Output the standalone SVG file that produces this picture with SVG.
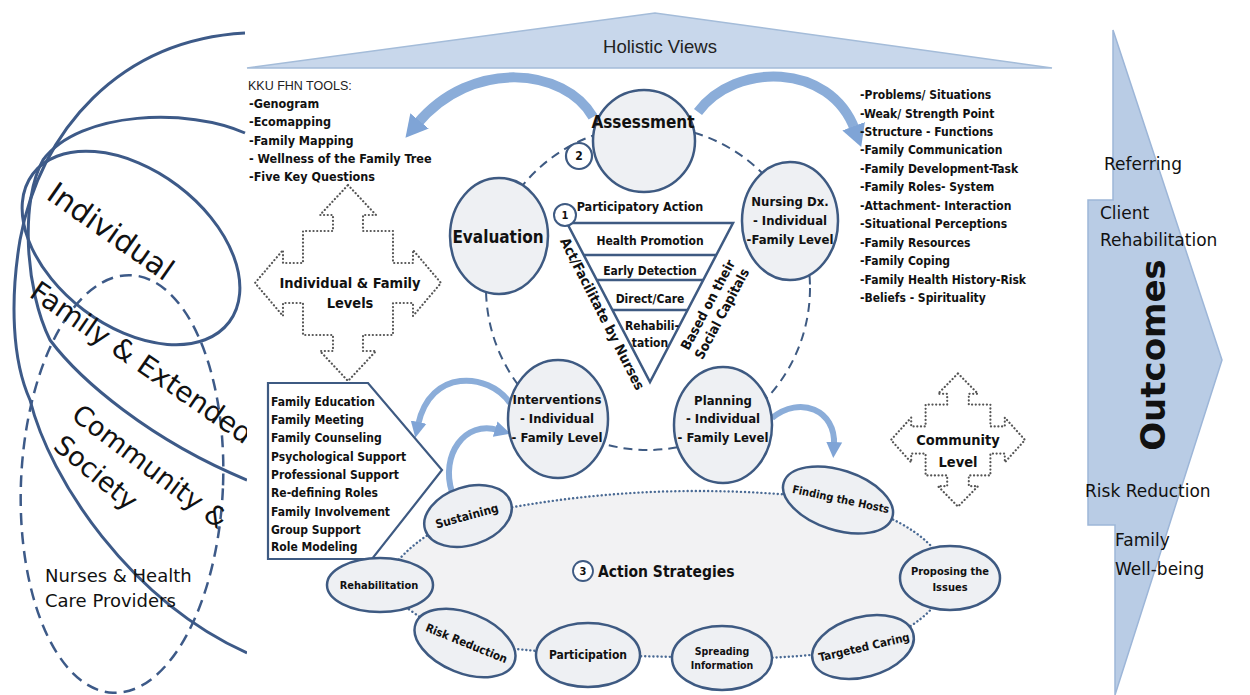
<svg xmlns="http://www.w3.org/2000/svg" width="1250" height="695" viewBox="0 0 1250 695">
<defs>
<style>
.n{fill:#eef0f3;stroke:#3e5a82;stroke-width:2.5}
.t{font-family:"DejaVu Sans Condensed","DejaVu Sans",sans-serif;font-weight:bold;fill:#111}
.m{text-anchor:middle}
.r{font-family:"DejaVu Sans",sans-serif;fill:#111}
.lc{fill:none;stroke:#3d5a88;stroke-width:3}
.ba{fill:none;stroke:#8badd9}
.dot{fill:#f2f2f3;stroke:#4a6a94;stroke-width:2.4;stroke-dasharray:0.1 4;stroke-linecap:round}
.qa{fill:#fff;stroke:#555;stroke-width:2.2;stroke-dasharray:0.1 3.6;stroke-linecap:round}
.ln{fill:none;stroke:#3e5a82;stroke-width:2.5}
</style>
<marker id="ah" markerUnits="userSpaceOnUse" markerWidth="26" markerHeight="26" refX="4" refY="12" orient="auto" viewBox="0 0 26 24"><path d="M0,0 L22,12 L0,24 Z" fill="#7fa4d6"/></marker>
<marker id="ahs" markerUnits="userSpaceOnUse" markerWidth="18" markerHeight="18" refX="3" refY="8" orient="auto" viewBox="0 0 18 16"><path d="M0,0 L16,8 L0,16 Z" fill="#7fa4d6"/></marker>
<clipPath id="lclip"><rect x="0" y="0" width="247" height="695"/></clipPath>
</defs>
<rect width="1250" height="695" fill="#fff"/>

<g id="holistic">
<polygon points="247,68 655,13 1052,68" fill="#c8d7eb" stroke="#a4bcd9" stroke-width="1.5"/>
<text x="660" y="53" text-anchor="middle" font-family="Liberation Sans, sans-serif" font-size="18.5" fill="#222">Holistic Views</text>
</g>

<g id="levels-left" clip-path="url(#lclip)">
<path class="lc" d="M245,33 C120,40 40,130 20,240 C10,300 12,360 30,400 C50,480 130,600 247,653"/>
<path class="lc" d="M245,133 C190,108 80,110 43,160 C20,200 25,290 50,340 C80,380 150,440 247,480"/>
<ellipse class="lc" cx="131" cy="248" rx="123" ry="78" transform="rotate(37 131 248)"/>
<ellipse cx="122" cy="484" rx="101" ry="209" transform="rotate(2.5 122 484)" fill="none" stroke="#3d5a88" stroke-width="2.5" stroke-dasharray="12 7"/>
<text class="r" font-size="30" transform="translate(45,198) rotate(35)">Individual</text>
<text class="r" font-size="28" transform="translate(28,296) rotate(34.5)">Family &amp; Extended</text>
<text class="r" font-size="27" transform="translate(70,418) rotate(37)">Community &amp;</text>
<text class="r" font-size="27" transform="translate(52,448) rotate(40)">Society</text>
<text class="r" font-size="18" x="45" y="582">Nurses &amp; Health</text>
<text class="r" font-size="18" x="45" y="607">Care Providers</text>
</g>

<g id="connectors">
<circle cx="648" cy="288" r="162" fill="none" stroke="#3e5a82" stroke-width="2" stroke-dasharray="9 6"/>
<path class="ba" stroke-width="10" d="M593,117 C565,68 472,58 417,124" marker-end="url(#ah)"/>
<path class="ba" stroke-width="10" d="M698,112 C735,62 830,62 855,130" marker-end="url(#ah)"/>
<path class="ba" stroke-width="6" d="M510,403 C488,372 430,368 418,425" marker-end="url(#ahs)"/>
<path class="ba" stroke-width="6" d="M452,492 C440,455 465,420 498,430" marker-end="url(#ahs)"/>
<path class="ba" stroke-width="6" d="M772,418 C800,395 836,410 834,445" marker-end="url(#ahs)"/>
</g>

<g id="tools">
<text x="248" y="90" font-family="Liberation Sans, sans-serif" font-size="12.5" fill="#222">KKU FHN TOOLS:</text>
<text class="t" font-size="12.5" x="249" y="108">-Genogram</text>
<text class="t" font-size="12.5" x="249" y="126">-Ecomapping</text>
<text class="t" font-size="12.5" x="249" y="145">-Family Mapping</text>
<text class="t" font-size="12.5" x="249" y="163">- Wellness of the Family Tree</text>
<text class="t" font-size="12.5" x="249" y="181">-Five Key Questions</text>
</g>

<g id="individual-family-levels">
<path class="qa" transform="translate(348,283)" d="M0,-98 L28,-68 L15,-68 L15,-52 L45,-52 L45,-20 L65,-20 L65,-33 L93,0 L65,33 L65,20 L45,20 L45,52 L15,52 L15,68 L28,68 L0,98 L-28,68 L-15,68 L-15,52 L-45,52 L-45,20 L-65,20 L-65,33 L-93,0 L-65,-33 L-65,-20 L-45,-20 L-45,-52 L-15,-52 L-15,-68 L-28,-68 Z"/>
<text class="t m" font-size="14.5" x="350" y="288">Individual &amp; Family</text>
<text class="t m" font-size="14.5" x="350" y="308">Levels</text>
</g>

<g id="community-level">
<path class="qa" transform="translate(958,440)" d="M0,-66.6 L20,-46.2 L10.8,-46.2 L10.8,-35.4 L32.4,-35.4 L32.4,-13.6 L46.8,-13.6 L46.8,-22.4 L67,0 L46.8,22.4 L46.8,13.6 L32.4,13.6 L32.4,35.4 L10.8,35.4 L10.8,46.2 L20,46.2 L0,66.6 L-20,46.2 L-10.8,46.2 L-10.8,35.4 L-32.4,35.4 L-32.4,13.6 L-46.8,13.6 L-46.8,22.4 L-67,0 L-46.8,-22.4 L-46.8,-13.6 L-32.4,-13.6 L-32.4,-35.4 L-10.8,-35.4 L-10.8,-46.2 L-20,-46.2 Z"/>
<text class="t m" font-size="14.5" x="958" y="445">Community</text>
<text class="t m" font-size="14.5" x="958" y="467">Level</text>
</g>

<g id="pyramid">
<polygon class="ln" points="567,223 733,223 650,382" fill="#fff"/>
<line class="ln" x1="583.7" y1="255" x2="716.3" y2="255"/>
<line class="ln" x1="596.8" y1="280" x2="703.2" y2="280"/>
<line class="ln" x1="612.4" y1="310" x2="687.6" y2="310"/>
<text class="t m" font-size="12.5" x="640" y="211">Participatory Action</text>
<text class="t m" font-size="12" x="650" y="245">Health Promotion</text>
<text class="t m" font-size="12" x="650" y="275">Early Detection</text>
<text class="t m" font-size="12" x="650" y="303">Direct/Care</text>
<text class="t m" font-size="12" x="652" y="330">Rehabili-</text>
<text class="t m" font-size="12" x="650" y="347">tation</text>
<text class="t m" font-size="14" transform="translate(598,316) rotate(63)">Act/Facilitate by Nurses</text>
<text class="t m" font-size="13.5" transform="translate(712,307) rotate(-62)">Based on their</text>
<text class="t m" font-size="13.5" transform="translate(726,316) rotate(-62)">Social Capitals</text>
<circle cx="565" cy="215" r="11" fill="#fff" stroke="#3e5a82" stroke-width="2"/>
<text class="t m" font-size="11" x="565" y="219">1</text>
</g>

<g id="assessment">
<circle class="n" cx="644" cy="141" r="51"/>
<text class="t m" font-size="17" x="643" y="128">Assessment</text>
<circle cx="579" cy="156" r="13" fill="#fff" stroke="#3e5a82" stroke-width="2.2"/>
<text class="t m" font-size="12" x="579" y="160">2</text>
</g>

<g id="evaluation">
<ellipse class="n" cx="499" cy="236" rx="49" ry="58"/>
<text class="t m" font-size="17" x="498" y="243">Evaluation</text>
</g>

<g id="nursing-dx">
<ellipse class="n" cx="790" cy="221" rx="48" ry="59"/>
<text class="t m" font-size="13" x="790" y="206">Nursing Dx.</text>
<text class="t m" font-size="13" x="790" y="225">- Individual</text>
<text class="t m" font-size="13" x="790" y="244">-Family Level</text>
</g>

<g id="interventions">
<ellipse class="n" cx="558" cy="419" rx="50" ry="59"/>
<text class="t m" font-size="13" x="557" y="404">Interventions</text>
<text class="t m" font-size="13" x="557" y="423">- Individual</text>
<text class="t m" font-size="13" x="557" y="442">- Family Level</text>
</g>

<g id="planning">
<ellipse class="n" cx="723" cy="425" rx="49" ry="58"/>
<text class="t m" font-size="13" x="723" y="405">Planning</text>
<text class="t m" font-size="13" x="723" y="423">- Individual</text>
<text class="t m" font-size="13" x="723" y="442">- Family Level</text>
</g>

<g id="assessment-items">
<text class="t" font-size="12" x="860" y="99">-Problems/ Situations</text>
<text class="t" font-size="12" x="860" y="117.5">-Weak/ Strength Point</text>
<text class="t" font-size="12" x="860" y="136">-Structure - Functions</text>
<text class="t" font-size="12" x="860" y="154.4">-Family Communication</text>
<text class="t" font-size="12" x="860" y="172.8">-Family Development-Task</text>
<text class="t" font-size="12" x="860" y="191.3">-Family Roles- System</text>
<text class="t" font-size="12" x="860" y="209.7">-Attachment- Interaction</text>
<text class="t" font-size="12" x="860" y="228.2">-Situational Perceptions</text>
<text class="t" font-size="12" x="860" y="246.6">-Family Resources</text>
<text class="t" font-size="12" x="860" y="265">-Family Coping</text>
<text class="t" font-size="12" x="860" y="283.5">-Family Health History-Risk</text>
<text class="t" font-size="12" x="860" y="302">-Beliefs - Spirituality</text>
</g>

<g id="action-strategies">
<path class="dot" d="M468,516 Q650,476 838,500 Q935,525 950,578 Q935,625 863,647 Q800,660 722,658 L588,655 Q515,650 465,643 Q410,615 380,585 Q410,535 468,516 Z"/>
<circle cx="583" cy="571" r="10" fill="#fff" stroke="#3e5a82" stroke-width="1.8"/>
<text class="t m" font-size="11" x="583" y="575">3</text>
<text class="t" font-size="15.5" x="598" y="577">Action Strategies</text>
</g>

<g id="interventions-list">
<polygon points="268,383 368,383 442,470 372,559 268,559" fill="#fff" stroke="#3e5a82" stroke-width="2.2"/>
<text class="t" font-size="12" x="271" y="406">Family Education</text>
<text class="t" font-size="12" x="271" y="424">Family Meeting</text>
<text class="t" font-size="12" x="271" y="442">Family Counseling</text>
<text class="t" font-size="12" x="271" y="461">Psychological Support</text>
<text class="t" font-size="12" x="271" y="479">Professional Support</text>
<text class="t" font-size="12" x="271" y="497">Re-defining Roles</text>
<text class="t" font-size="12" x="271" y="516">Family Involvement</text>
<text class="t" font-size="12" x="271" y="534">Group Support</text>
<text class="t" font-size="12" x="271" y="551">Role Modeling</text>
</g>

<g id="sustaining">
<ellipse class="n" cx="468" cy="516" rx="45" ry="29" transform="rotate(-18 468 516)"/>
<text class="t m" font-size="12" transform="translate(468,520) rotate(-15)">Sustaining</text>
</g>
<g id="rehabilitation">
<ellipse class="n" cx="380" cy="585" rx="53" ry="27"/>
<text class="t m" font-size="11" x="379" y="589">Rehabilitation</text>
</g>
<g id="risk-reduction">
<ellipse class="n" cx="465" cy="643" rx="53" ry="30" transform="rotate(22 465 643)"/>
<text class="t m" font-size="11.5" transform="translate(465,647) rotate(22)">Risk Reduction</text>
</g>
<g id="participation">
<ellipse class="n" cx="588" cy="655" rx="52" ry="32"/>
<text class="t m" font-size="12" x="588" y="659">Participation</text>
</g>
<g id="spreading-information">
<ellipse class="n" cx="722" cy="658" rx="50" ry="32"/>
<text class="t m" font-size="10.5" x="722" y="655">Spreading</text>
<text class="t m" font-size="10.5" x="722" y="669">Information</text>
</g>
<g id="targeted-caring">
<ellipse class="n" cx="863" cy="647" rx="52" ry="30" transform="rotate(-15 863 647)"/>
<text class="t m" font-size="11.5" transform="translate(865,651) rotate(-13)">Targeted Caring</text>
</g>
<g id="proposing-issues">
<ellipse class="n" cx="950" cy="578" rx="50" ry="32"/>
<text class="t m" font-size="11" x="950" y="575">Proposing the</text>
<text class="t m" font-size="11" x="950" y="591">Issues</text>
</g>
<g id="finding-hosts">
<ellipse class="n" cx="838" cy="500" rx="57" ry="30" transform="rotate(18 838 500)"/>
<text class="t m" font-size="11" transform="translate(840,503) rotate(12)">Finding the Hosts</text>
</g>

<g id="outcomes">
<polygon points="1113,30 1222,360 1115,695 1115,525 1088,525 1088,200 1113,200" fill="#b9cce5" stroke="#9db6d8" stroke-width="1.5"/>
<text class="r" font-size="17" x="1104" y="170">Referring</text>
<text class="r" font-size="17" x="1100" y="219">Client</text>
<text class="r" font-size="17" x="1100" y="246">Rehabilitation</text>
<text class="r m" font-size="34" font-weight="bold" transform="translate(1165,355) rotate(-90)">Outcomes</text>
<text class="r" font-size="17" x="1085" y="497">Risk Reduction</text>
<text class="r" font-size="17" x="1115" y="546">Family</text>
<text class="r" font-size="17" x="1115" y="575">Well-being</text>
</g>
</svg>
